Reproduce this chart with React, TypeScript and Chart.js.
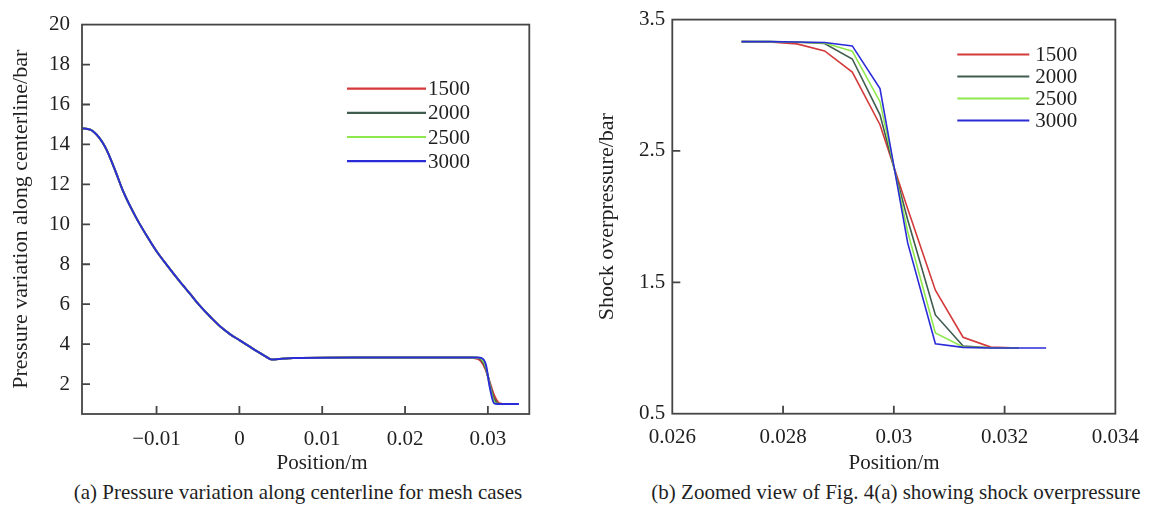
import React, { useEffect, useRef } from "react";
import { Chart, registerables } from "chart.js";

Chart.register(...registerables);

// ---------- data ----------
const SERIES_LABELS = ["1500", "2000", "2500", "3000"];
const SERIES_COLORS = ["#d43a3a", "#3f5c4e", "#8ee84c", "#2b2bd8"];

// expansion region shared by every mesh (left panel)
const EXP_X = [
  -0.019, -0.0185, -0.018, -0.0175, -0.017, -0.0165, -0.016, -0.015, -0.014, -0.0125,
  -0.011, -0.01, -0.0087, -0.0073, -0.006, -0.0047, -0.0034, -0.0022, -0.0011, 0,
  0.0011, 0.0022, 0.0031, 0.0039, 0.0047, 0.0056, 0.0065, 0.0075, 0.01, 0.015, 0.02, 0.025,
];
const EXP_Y = [
  14.8, 14.79, 14.74, 14.6, 14.38, 14.08, 13.7, 12.7, 11.62, 10.36,
  9.3, 8.65, 7.93, 7.19, 6.54, 5.89, 5.32, 4.84, 4.49, 4.2,
  3.91, 3.62, 3.4, 3.23, 3.25, 3.28, 3.3, 3.31, 3.32, 3.325, 3.33, 3.332,
];

// shock front (right panel, also the end of the left panel)
const SHOCK_X = [
  0.02725, 0.02775, 0.02825, 0.02875, 0.02925, 0.02975, 0.03025, 0.03075, 0.03125,
  0.03175, 0.03225, 0.03275,
];
const P_1500 = [3.332, 3.33, 3.315, 3.262, 3.1, 2.7, 2.06, 1.44, 1.082, 1.007, 1.0];
const P_2000 = [3.332, 3.332, 3.328, 3.318, 3.2, 2.775, 1.976, 1.252, 1.015, 1.002, 1.0];
const P_2500 = [3.332, 3.332, 3.33, 3.322, 3.26, 2.875, 1.885, 1.114, 1.008, 1.001, 1.0];
const P_3000 = [3.332, 3.332, 3.33, 3.326, 3.3, 2.975, 1.8, 1.032, 1.005, 1.0, 1.0, 1.0];
const SHOCK_SERIES = [P_1500, P_2000, P_2500, P_3000];

// downstream tail shown only in the full-length view (left panel)
const TAIL_X = [0.03375];
const TAIL_Y = [1.0];

// axes
const LEFT_X_TICKS = [-0.01, 0, 0.01, 0.02, 0.03];
const LEFT_X_TICK_LABELS = ["\u22120.01", "0", "0.01", "0.02", "0.03"];
const LEFT_Y_TICKS = [2, 4, 6, 8, 10, 12, 14, 16, 18, 20];
const LEFT_Y_TICK_LABELS = ["2", "4", "6", "8", "10", "12", "14", "16", "18", "20"];
const RIGHT_X_TICKS = [0.026, 0.028, 0.03, 0.032, 0.034];
const RIGHT_X_TICK_LABELS = ["0.026", "0.028", "0.03", "0.032", "0.034"];
const RIGHT_Y_TICKS = [0.5, 1.5, 2.5, 3.5];
const RIGHT_Y_TICK_LABELS = ["0.5", "1.5", "2.5", "3.5"];

const LEFT_Y_TITLE = "Pressure variation along centerline/bar";
const RIGHT_Y_TITLE = "Shock overpressure/bar";
const X_TITLE = "Position/m";
const CAPTION_A = "(a) Pressure variation along centerline for mesh cases";
const CAPTION_B = "(b) Zoomed view of Fig. 4(a) showing shock overpressure";

// ---------- helpers ----------
const FONT = "'Liberation Serif', 'Times New Roman', serif";
const TEXT_COLOR = "#1f1f1f";
const AXIS_COLOR = "#454545";

function pts(xs: number[], ys: number[]) {
  return ys.map((y, i) => ({ x: xs[i], y }));
}

const framePlugin = {
  id: "frame",
  afterDatasetsDraw(chart: any, _args: any, opts: any) {
    const { ctx, chartArea, scales } = chart;
    const { left, top, right, bottom } = chartArea;
    ctx.save();
    ctx.strokeStyle = AXIS_COLOR;
    ctx.lineWidth = 1.8;
    ctx.strokeRect(left, top, right - left, bottom - top);
    ctx.beginPath();
    scales.x.ticks.forEach((t: any) => {
      const px = scales.x.getPixelForValue(t.value);
      if (px > left + 2 && px < right - 2) {
        ctx.moveTo(px, bottom);
        ctx.lineTo(px, bottom - opts.tick);
      }
    });
    scales.y.ticks.forEach((t: any) => {
      const py = scales.y.getPixelForValue(t.value);
      if (py > top + 2 && py < bottom - 2) {
        ctx.moveTo(left, py);
        ctx.lineTo(left + opts.tick, py);
      }
    });
    ctx.stroke();

    // legend
    ctx.font = `${opts.legendFont}px ${FONT}`;
    ctx.textBaseline = "middle";
    ctx.textAlign = "left";
    chart.data.datasets.forEach((ds: any, i: number) => {
      const y = top + opts.legendTop + i * opts.legendStep;
      const x0 = left + opts.legendLeft;
      ctx.strokeStyle = ds.borderColor;
      ctx.lineWidth = opts.legendLineWidth;
      ctx.beginPath();
      ctx.moveTo(x0, y);
      ctx.lineTo(x0 + opts.legendLen, y);
      ctx.stroke();
      ctx.fillStyle = TEXT_COLOR;
      ctx.fillText(ds.label, x0 + opts.legendLen + opts.legendGap, y + 1);
    });

    // x axis title
    ctx.font = `${opts.xTitleFont}px ${FONT}`;
    ctx.textAlign = "center";
    ctx.fillStyle = TEXT_COLOR;
    ctx.fillText(opts.xTitle, opts.xTitleX, opts.xTitleY);
    ctx.restore();
  },
};

function makeConfig(p: any) {
  return {
    type: "line",
    data: {
      datasets: SERIES_LABELS.map((label, i) => ({
        label,
        data: p.data[i],
        borderColor: SERIES_COLORS[i],
        backgroundColor: SERIES_COLORS[i],
        borderWidth: p.lineWidth,
        pointRadius: 0,
        tension: p.smooth ? 0.4 : 0,
        cubicInterpolationMode: p.smooth ? "monotone" : "default",
        fill: false,
        order: SERIES_LABELS.length - i,
      })),
    },
    options: {
      animation: false,
      responsive: false,
      maintainAspectRatio: false,
      devicePixelRatio: 1,
      layout: { padding: p.padding },
      plugins: {
        legend: { display: false },
        tooltip: { enabled: false },
        frame: p.frame,
      },
      scales: {
        x: {
          type: "linear",
          min: p.xMin,
          max: p.xMax,
          afterBuildTicks: (s: any) => {
            s.ticks = p.xTicks.map((v: number) => ({ value: v }));
          },
          afterFit: (s: any) => {
            s.height = p.xHeight;
          },
          grid: { display: false, drawTicks: false },
          border: { display: false },
          ticks: {
            autoSkip: false,
            maxRotation: 0,
            minRotation: 0,
            padding: p.xPad,
            color: TEXT_COLOR,
            font: { family: FONT, size: 21, lineHeight: 1.2 },
            callback: (_v: any, i: number) => p.xLabels[i],
          },
        },
        y: {
          type: "linear",
          min: p.yMin,
          max: p.yMax,
          afterBuildTicks: (s: any) => {
            s.ticks = p.yTicks.map((v: number) => ({ value: v }));
          },
          afterFit: (s: any) => {
            s.width = p.yWidth;
          },
          grid: { display: false, drawTicks: false },
          border: { display: false },
          ticks: {
            autoSkip: false,
            padding: p.yPad,
            color: TEXT_COLOR,
            font: { family: FONT, size: 21, lineHeight: 1.2 },
            callback: (_v: any, i: number) => p.yLabels[i],
          },
          title: {
            display: true,
            text: p.yTitle,
            color: TEXT_COLOR,
            font: { family: FONT, size: 22, lineHeight: 1.2 },
            padding: { top: p.yTitlePad, bottom: 0 },
          },
        },
      },
    },
    plugins: [framePlugin],
  };
}

function ChartCanvas({ config, width, height, style }: any) {
  const ref = useRef<HTMLCanvasElement | null>(null);
  useEffect(() => {
    if (!ref.current) return;
    const chart = new Chart(ref.current, config);
    return () => chart.destroy();
  }, []);
  return <canvas ref={ref} width={width} height={height} style={{ position: "absolute", width, height, ...style }} />;
}

const LEFT_DATA = SHOCK_SERIES.map((s) => {
  const shock = pts(SHOCK_X, s).filter((p) => p.x < TAIL_X[0]);
  return [...pts(EXP_X, EXP_Y), ...shock, ...pts(TAIL_X, TAIL_Y)];
});
const RIGHT_DATA = SHOCK_SERIES.map((s) => pts(SHOCK_X, s));

const leftConfig = makeConfig({
  data: LEFT_DATA,
  lineWidth: 2,
  smooth: true,
  padding: { left: 0, top: 14, right: 30.7, bottom: 0 },
  xMin: -0.019,
  xMax: 0.035,
  xTicks: LEFT_X_TICKS,
  xLabels: LEFT_X_TICK_LABELS,
  xHeight: 66,
  xPad: 13,
  yMin: 0.5,
  yMax: 20,
  yTicks: LEFT_Y_TICKS,
  yLabels: LEFT_Y_TICK_LABELS,
  yWidth: 82,
  yPad: 12,
  yTitle: LEFT_Y_TITLE,
  yTitlePad: 8,
  frame: {
    tick: 8,
    legendLeft: 265,
    legendTop: 64,
    legendStep: 24.2,
    legendLen: 79,
    legendGap: 2,
    legendFont: 21,
    legendLineWidth: 2.2,
    xTitle: X_TITLE,
    xTitleFont: 21,
    xTitleX: 322,
    xTitleY: 463,
  },
});

const rightConfig = makeConfig({
  data: RIGHT_DATA,
  lineWidth: 1.6,
  smooth: false,
  padding: { left: 0, top: 13.3, right: 30.7, bottom: 0 },
  xMin: 0.026,
  xMax: 0.034,
  xTicks: RIGHT_X_TICKS,
  xLabels: RIGHT_X_TICK_LABELS,
  xHeight: 66.3,
  xPad: 11,
  yMin: 0.5,
  yMax: 3.5,
  yTicks: RIGHT_Y_TICKS,
  yLabels: RIGHT_Y_TICK_LABELS,
  yWidth: 92.3,
  yPad: 7,
  yTitle: RIGHT_Y_TITLE,
  yTitlePad: 14,
  frame: {
    tick: 8,
    legendLeft: 285,
    legendTop: 35,
    legendStep: 22,
    legendLen: 72,
    legendGap: 6,
    legendFont: 21,
    legendLineWidth: 2,
    xTitle: X_TITLE,
    xTitleFont: 21,
    xTitleX: 314,
    xTitleY: 463,
  },
});

const captionStyle: any = {
  position: "absolute",
  top: 480,
  height: 24,
  lineHeight: "24px",
  fontFamily: FONT,
  fontSize: 21,
  color: TEXT_COLOR,
  textAlign: "center",
  whiteSpace: "nowrap",
};

export default function App() {
  return (
    <div style={{ position: "absolute", left: 0, top: 0, width: 1150, height: 515, background: "#fff", overflow: "hidden" }}>
      <ChartCanvas config={leftConfig} width={560} height={480} style={{ left: 0, top: 0 }} />
      <ChartCanvas config={rightConfig} width={570} height={480} style={{ left: 580, top: 0 }} />
      <div style={{ ...captionStyle, left: 0, width: 596 }}>{CAPTION_A}</div>
      <div style={{ ...captionStyle, left: 596, width: 600 }}>{CAPTION_B}</div>
    </div>
  );
}
